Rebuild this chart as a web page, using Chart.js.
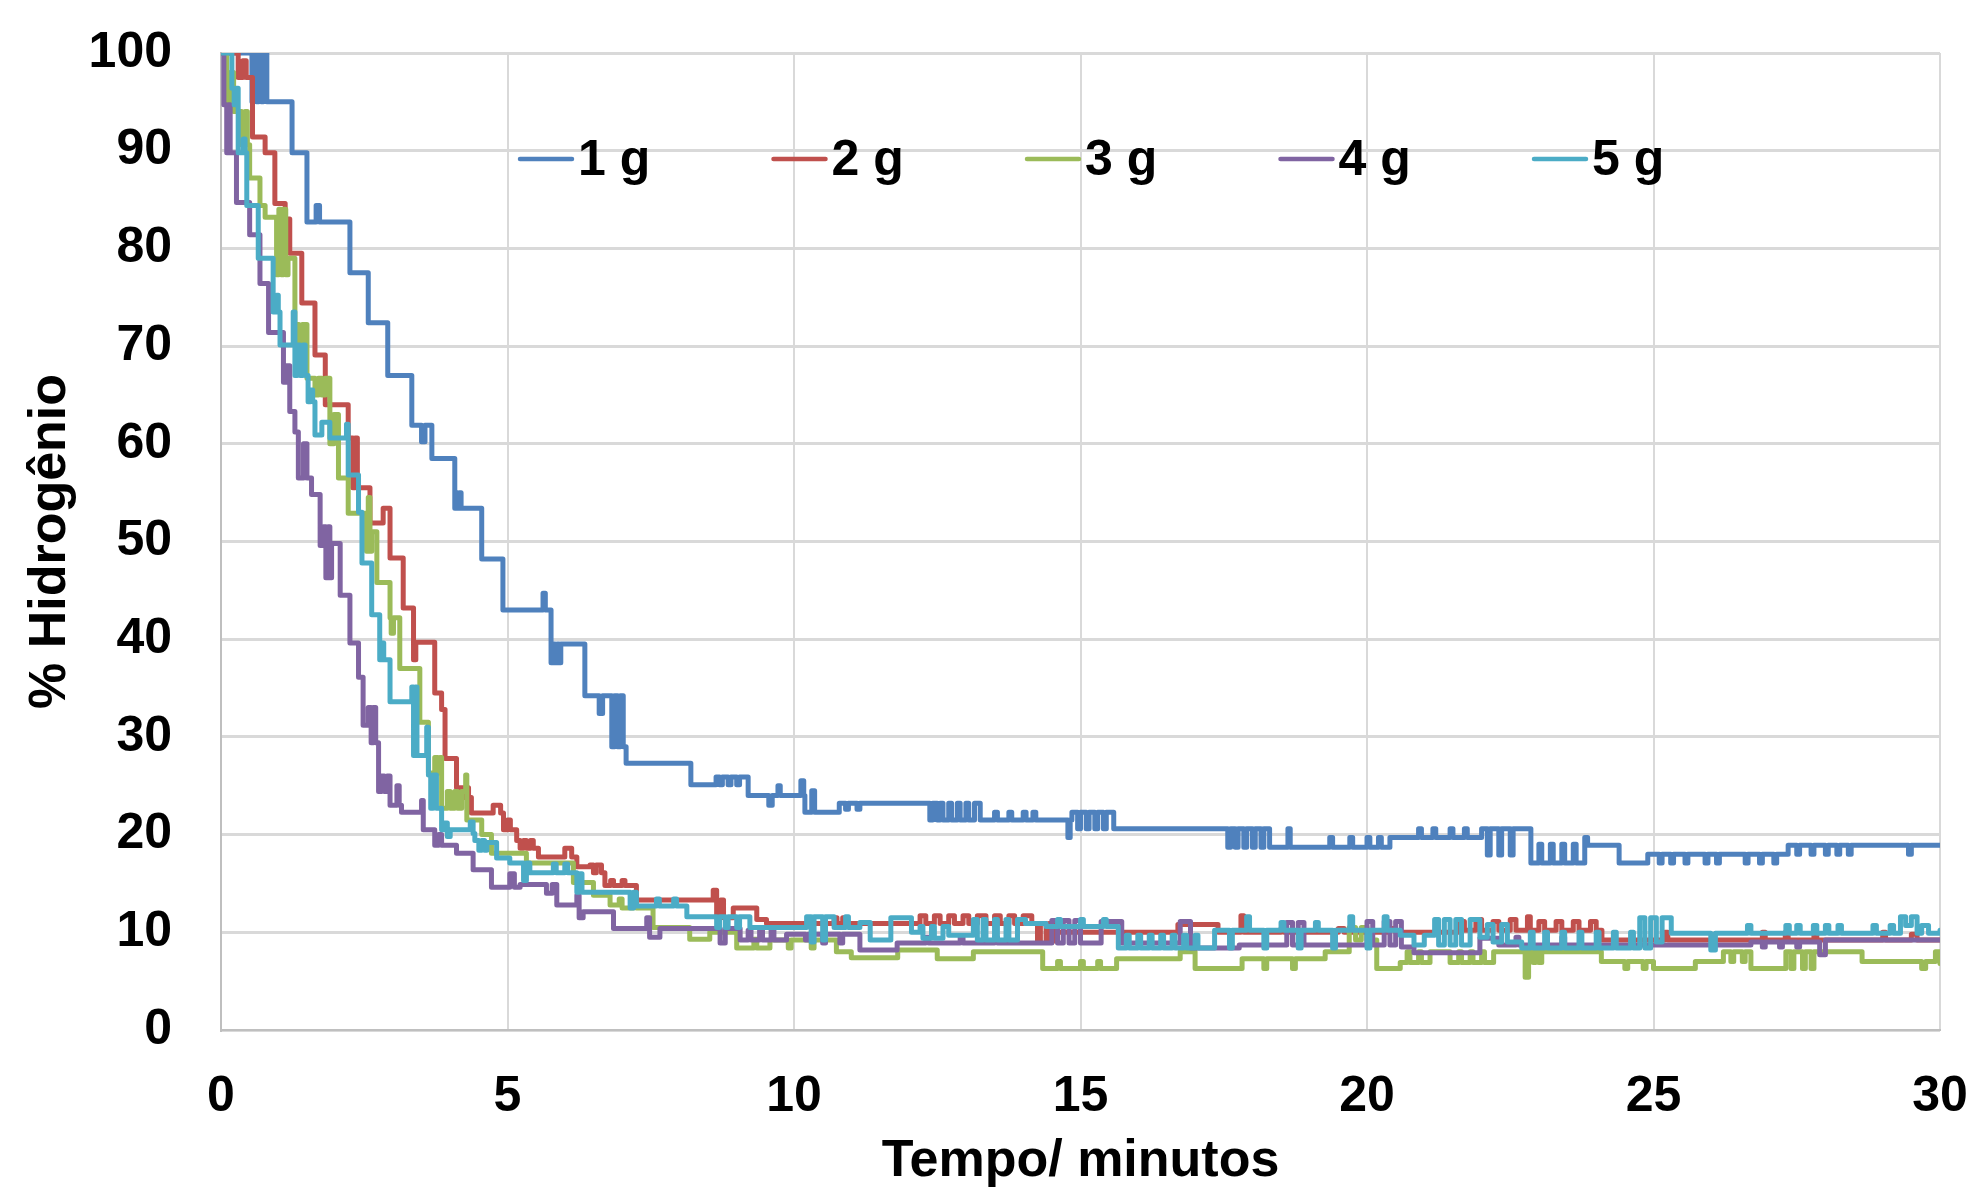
<!DOCTYPE html>
<html>
<head>
<meta charset="utf-8">
<script src="https://cdn.jsdelivr.net/npm/chart.js@4.4.1/dist/chart.umd.min.js"></script>
<style>
  html, body { margin: 0; padding: 0; background: #fff; }
  #wrap { width: 1971px; height: 1188px; }
</style>
</head>
<body>
<div id="wrap"><canvas id="c" width="1971" height="1188"></canvas></div>
<script>
// ---------- Data (time in minutes, % hydrogen) ----------
const seriesLabels = ["1 g", "2 g", "3 g", "4 g", "5 g"];
const seriesColors = ["#4F81BD", "#C0504D", "#9BBB59", "#8064A2", "#4BACC6"];

const h1g = [
  [0,100],[0.54,95],[0.58,100],[0.62,95],[0.66,100],[0.70,95],[0.74,100],[0.80,95],
  [1.24,89.8],[1.50,82.7],[1.66,84.4],[1.72,82.7],[2.25,77.5],[2.57,72.4],[2.91,67.0],
  [3.33,61.9],[3.50,60.2],[3.56,61.9],[3.68,58.5],[4.08,53.4],[4.10,55],[4.13,53.4],[4.16,55],[4.19,53.4],
  [4.55,48.2],[4.92,43.0],[5.62,44.7],[5.66,43.0],[5.76,37.6],[5.80,39.5],[5.83,37.6],[5.87,39.5],[5.90,37.6],[5.93,39.5],
  [6.35,34.2],[6.60,32.4],[6.66,34.2],[6.82,29],[6.87,34.2],[6.92,29],[6.97,34.2],[7.02,29],[7.07,27.3],
  [8.20,25.1],[8.64,25.9],[8.70,25.1],[8.75,25.9],[8.85,25.1],[8.90,25.9],[9.00,25.1],[9.05,25.9],[9.20,24.0],
  [9.56,23.0],[9.62,24.0],[9.72,25.0],[9.76,24.0],[10.12,25.5],[10.17,24.0],[10.19,22.3],[10.31,24.5],[10.36,22.3],
  [10.79,23.2],[10.90,22.6],[10.95,23.2],[11.10,22.6],[11.15,23.2],
  [12.37,21.5],[12.42,23.2],[12.50,21.5],[12.55,23.2],[12.60,21.5],[12.70,23.2],[12.75,21.5],[12.85,23.2],[12.90,21.5],
  [13.00,23.2],[13.05,21.5],[13.15,23.2],[13.25,21.5],[13.50,22.3],[13.55,21.5],[13.75,22.3],[13.80,21.5],
  [14.00,22.3],[14.05,21.5],[14.17,22.3],[14.22,21.5],[14.78,19.7],[14.82,21.5],
  [14.85,22.3],[14.95,20.6],[15.00,22.3],[15.10,20.6],[15.15,22.3],[15.25,20.6],[15.30,22.3],[15.40,20.6],[15.45,22.3],[15.58,20.6],
  [17.57,18.7],[17.62,20.6],[17.70,18.7],[17.75,20.6],[17.85,18.7],[17.90,20.6],[18.00,18.7],[18.05,20.6],[18.15,18.7],[18.20,20.6],[18.30,18.7],
  [18.62,20.6],[18.66,18.7],[19.35,19.7],[19.40,18.7],[19.70,19.7],[19.75,18.7],[20.00,19.7],[20.05,18.7],[20.20,19.7],[20.25,18.7],[20.40,19.7],
  [20.90,20.6],[20.95,19.7],[21.15,20.6],[21.20,19.7],[21.45,20.6],[21.50,19.7],[21.70,20.6],[21.75,19.7],
  [22.00,20.6],[22.10,17.9],[22.15,20.6],[22.30,17.9],[22.35,20.6],[22.50,17.9],[22.55,20.6],
  [22.86,17.1],[23.00,19.0],[23.05,17.1],[23.20,19.0],[23.25,17.1],[23.40,19.0],[23.45,17.1],[23.60,19.0],[23.65,17.1],[23.80,19.7],[23.85,18.9],
  [24.40,17.1],[24.90,18.0],[25.10,17.1],[25.15,18.0],[25.30,17.1],[25.35,18.0],[25.55,17.1],[25.60,18.0],[25.90,17.1],[25.95,18.0],
  [26.10,17.1],[26.15,18.0],[26.60,17.1],[26.65,18.0],[26.85,17.1],[26.90,18.0],[27.10,17.1],[27.15,18.0],
  [27.35,18.9],[27.50,18.0],[27.55,18.9],[27.75,18.0],[27.80,18.9],[28.00,18.0],[28.05,18.9],[28.20,18.0],[28.25,18.9],[28.40,18.0],[28.45,18.9],
  [29.45,18.0],[29.50,18.9],[30,18.9]
];

const h2g = [
  [0,100],[0.30,97.5],[0.38,99.2],[0.44,97.5],[0.55,91.4],[0.77,89.8],[0.94,84.6],[1.12,83.0],[1.20,79.5],[1.41,74.4],
  [1.64,69.1],[1.82,64.0],[2.22,60.6],[2.30,55.5],[2.34,60.6],[2.38,55.5],[2.60,51.9],[2.83,53.4],[2.95,48.3],[3.18,43.2],
  [3.36,37.9],[3.40,39.7],[3.73,34.5],[3.85,32.8],[3.91,27.8],[4.11,24.8],[4.23,23.8],[4.27,24.8],[4.32,23.8],[4.37,22.2],
  [4.75,23.0],[4.88,22.2],[4.93,20.5],[5.00,21.5],[5.05,20.5],[5.16,19.4],[5.22,18.6],[5.28,19.4],[5.33,18.6],[5.40,19.4],[5.45,18.6],
  [5.54,17.7],[6.00,18.6],[6.12,17.7],[6.21,16.7],[6.44,16.9],[6.50,16.1],[6.55,16.9],[6.64,16.1],[6.70,14.8],[6.80,15.3],[6.85,14.8],
  [7.00,15.3],[7.05,14.8],[7.25,13.3],[8.59,14.3],[8.65,11.5],[8.72,13.3],[8.77,11.5],[8.94,12.5],[9.35,11.3],[9.52,10.9],
  [10.70,11.5],[10.75,10.9],[10.85,11.5],[10.90,10.9],[12.20,11.7],[12.30,10.9],[12.45,11.7],[12.55,10.9],[12.70,11.7],[12.80,10.9],
  [12.95,11.7],[13.05,10.9],[13.20,11.7],[13.35,10.9],[13.50,11.7],[13.60,10.9],[13.75,11.7],[13.85,10.9],[14.00,11.7],[14.15,10.9],
  [14.25,9.1],[14.30,10.9],[14.40,9.1],[14.45,10.9],[14.55,9.1],[14.60,10.0],[16.70,10.8],[17.40,10.0],[17.80,11.7],[17.85,10.0],
  [18.50,10.4],[18.55,10.0],[19.50,10.4],[19.60,10.0],[20.40,10.4],[20.50,10.0],
  [21.60,11.1],[21.70,10.2],[21.90,11.3],[22.00,10.2],[22.20,11.1],[22.30,10.2],[22.50,11.3],[22.60,10.2],[22.80,11.6],[22.85,10.2],
  [23.00,11.1],[23.10,10.2],[23.30,11.1],[23.40,10.2],[23.60,11.1],[23.70,10.2],[23.90,11.1],[24.00,10.2],[24.10,9.2],
  [25.20,10.0],[25.25,9.2],[26.90,10.0],[26.95,9.2],[27.30,10.0],[27.35,9.2],[27.80,10.0],[27.85,9.2],[29.00,10.0],[29.05,9.2],
  [29.50,9.8],[29.60,9.2],[30,9.2]
];

const h3g = [
  [0,100],[0.10,95],[0.16,98],[0.22,94],[0.36,90.6],[0.42,94],[0.46,90.6],[0.50,87.2],[0.68,84.4],[0.77,83.2],[0.97,77.3],
  [1.01,84],[1.05,77.3],[1.09,84],[1.13,77.3],[1.17,79],[1.29,72.2],[1.36,70],[1.42,72.2],[1.50,66.7],[1.64,65.0],[1.70,66.7],
  [1.76,65.0],[1.82,66.7],[1.90,60],[1.97,63],[2.05,56.5],[2.22,52.9],[2.54,49.0],[2.57,54.5],[2.60,49.0],[2.63,51.0],[2.72,45.8],
  [2.95,42.2],[2.97,40.6],[3.01,42.2],[3.12,37.0],[3.47,31.5],[3.62,26.3],[3.73,27.9],[3.78,26.3],[3.82,27.9],[3.85,22.7],
  [3.95,24.4],[4.00,22.7],[4.08,24.4],[4.13,22.7],[4.20,24.4],[4.27,26.1],[4.29,21.5],[4.55,20.0],[4.72,18.1],[5.33,17.1],
  [6.15,15.1],[6.50,13.8],[6.79,12.8],[6.95,13.4],[7.00,12.5],[7.20,13.1],[7.25,12.5],[7.54,10.5],[8.18,9.3],[8.53,10.0],
  [9.00,8.4],[9.30,9.3],[9.35,8.4],[9.58,9.2],[9.90,8.4],[9.95,9.2],[10.30,8.4],[10.35,9.2],[10.74,8.0],[11.00,7.4],[11.81,8.2],
  [12.50,7.3],[13.13,8.0],[14.34,6.3],[14.60,7.0],[14.65,6.3],[15.00,7.0],[15.05,6.3],[15.30,7.0],[15.35,6.3],[15.63,7.3],
  [16.74,8.0],[17.00,6.3],[17.82,7.3],[18.20,6.3],[18.25,7.3],[18.70,6.3],[18.75,7.3],[19.27,8.0],[19.69,10.5],[19.80,9.2],
  [19.90,10.5],[20.00,9.2],[20.17,6.3],[20.58,6.9],[20.70,8.0],[20.75,6.9],[20.90,8.0],[20.95,6.9],[21.10,8.0],[21.45,6.9],
  [21.60,8.0],[21.65,6.9],[21.80,8.0],[21.85,6.9],[22.00,8.0],[22.05,6.9],[22.21,8.0],[22.76,5.4],[22.82,8.0],[22.90,6.9],
  [22.94,8.0],[23.00,6.9],[23.05,8.0],[24.09,7.0],[24.50,6.3],[24.55,7.0],[24.82,6.3],[24.87,7.0],[25.00,6.3],[25.73,7.0],
  [26.22,8.0],[26.35,7.0],[26.40,8.0],[26.55,7.0],[26.60,8.0],[26.70,6.3],[27.31,8.0],[27.40,6.3],[27.45,8.0],[27.60,6.3],
  [27.65,8.0],[27.75,6.3],[27.80,8.0],[28.64,7.0],[29.68,6.3],[29.75,7.0],[29.92,8.0],[30,6.8]
];

const h4g = [
  [0,100],[0.05,94.7],[0.10,89.8],[0.13,94.7],[0.16,89.8],[0.27,84.7],[0.50,81.4],[0.68,76.4],[0.83,71.4],[1.09,66.3],[1.14,68],
  [1.20,63.3],[1.29,61.2],[1.35,56.5],[1.44,60],[1.50,56.5],[1.58,54.8],[1.73,49.6],[1.79,51.5],[1.83,46.3],[1.87,51.5],[1.90,46.3],
  [1.93,49.8],[2.08,44.5],[2.25,39.6],[2.40,36.1],[2.48,31.2],[2.57,33.0],[2.62,29.4],[2.66,33.0],[2.70,29.4],[2.75,24.4],[2.80,26.0],
  [2.85,24.4],[2.90,26.0],[2.95,23.0],[3.07,25.0],[3.11,23.0],[3.15,22.3],[3.50,23.5],[3.53,20.5],[3.73,18.9],[3.80,20.0],[3.85,18.9],
  [4.11,18.1],[4.40,16.4],[4.72,14.6],[5.04,16.0],[5.12,14.6],[5.22,14.9],[5.68,14.0],[5.78,14.9],[5.86,12.8],[6.21,13.8],[6.25,11.5],
  [6.32,12.1],[6.85,10.4],[7.43,11.5],[7.48,9.5],[7.66,10.4],[8.71,8.9],[8.80,10.4],[9.06,9.2],[9.20,10.2],[9.25,9.2],[9.40,10.2],
  [9.45,9.2],[9.60,10.2],[9.65,9.2],[9.87,9.8],[10.20,9.2],[10.25,9.8],[10.50,8.9],[10.55,9.8],[10.80,8.9],[10.85,9.8],[11.15,8.2],
  [11.80,8.9],[12.30,9.5],[12.35,8.9],[12.90,9.5],[12.95,8.9],[13.50,9.5],[13.55,8.9],[14.50,11.2],[14.60,8.9],[14.70,11.2],[14.80,8.9],
  [14.90,11.2],[15.00,8.9],[15.36,11.1],[15.72,8.9],[16.74,11.1],[16.92,8.4],[17.77,8.7],[18.60,11.0],[18.70,8.7],[18.80,11.0],[18.90,8.7],
  [20.00,11.1],[20.10,8.7],[20.30,11.1],[20.40,8.7],[20.50,11.1],[20.60,8.5],[20.82,7.9],[21.97,9.4],[22.30,8.7],[22.60,9.5],[22.65,8.7],
  [23.40,9.5],[23.45,8.7],[26.70,9.0],[26.90,8.5],[26.95,9.0],[27.20,8.5],[27.25,9.0],[27.50,8.5],[27.55,9.0],[27.90,7.7],[28.00,9.2],[30,9.2]
];

const h5g = [
  [0,100],[0.19,96.4],[0.23,94.7],[0.26,96.4],[0.30,89.8],[0.39,91.2],[0.42,89.8],[0.45,84.4],[0.65,79.0],[0.91,73.5],[0.97,75.2],
  [1.00,73.5],[1.03,70.1],[1.26,73.5],[1.29,67.0],[1.33,70.1],[1.38,67.0],[1.43,70.1],[1.47,67.0],[1.52,64.3],[1.56,65.5],[1.60,64.3],
  [1.64,60.9],[1.76,62.2],[1.90,60.6],[2.19,62.0],[2.22,56.8],[2.40,53.0],[2.46,47.8],[2.63,42.5],[2.77,37.9],[2.81,39.6],[2.84,37.9],
  [2.95,33.6],[3.33,35.1],[3.36,28.1],[3.39,35.1],[3.42,28.1],[3.59,31.0],[3.62,26.1],[3.66,22.7],[3.70,26.1],[3.76,22.7],[3.85,20.5],
  [3.90,21.2],[3.95,19.8],[4.00,20.5],[4.35,21.3],[4.40,20.1],[4.43,19.4],[4.50,18.4],[4.55,19.4],[4.60,18.4],[4.64,19.2],[4.81,17.6],
  [5.04,17.1],[5.28,15.3],[5.33,17.1],[5.39,16.1],[5.80,17.0],[5.85,16.1],[6.00,17.0],[6.05,16.1],[6.21,14.1],[6.25,16.0],[6.30,14.1],
  [7.14,12.5],[7.20,14.1],[7.25,12.7],[7.60,13.4],[7.65,12.7],[7.90,13.4],[7.95,12.7],[8.13,11.6],[8.65,10.5],[8.70,11.6],[8.80,10.5],
  [8.85,11.6],[9.00,10.5],[9.05,11.6],[9.23,10.5],[10.22,11.6],[10.30,9.0],[10.35,11.6],[10.50,9.2],[10.55,11.6],[10.70,10.5],[10.90,11.6],
  [10.95,10.5],[11.15,11.0],[11.33,9.2],[11.69,11.5],[12.05,10.0],[12.20,10.6],[12.25,9.4],[12.40,10.6],[12.45,9.4],[12.60,10.6],[12.70,9.7],
  [13.13,11.3],[13.20,9.2],[13.30,11.3],[13.35,9.2],[13.50,11.3],[13.55,9.2],[13.70,11.3],[13.75,9.2],[13.90,11.3],[14.04,10.9],[14.40,10.6],
  [14.60,11.3],[14.65,10.6],[15.00,11.3],[15.05,10.6],[15.40,11.3],[15.45,10.6],[15.66,8.4],[15.80,9.7],[15.85,8.4],[16.00,9.7],[16.05,8.4],
  [16.20,9.7],[16.25,8.4],[16.40,9.7],[16.45,8.4],[16.60,9.7],[16.65,8.4],[16.80,9.7],[16.85,8.4],[17.00,9.7],[17.05,8.4],[17.34,10.2],
  [17.60,8.4],[17.65,10.2],[17.90,11.6],[17.95,10.2],[18.20,8.4],[18.25,10.2],[18.50,11.0],[18.55,10.2],[18.80,8.4],[18.85,10.2],
  [19.10,11.0],[19.15,10.2],[19.40,8.4],[19.45,10.2],[19.70,11.6],[19.75,10.2],[20.00,8.4],[20.05,10.2],[20.30,11.6],[20.35,10.2],
  [20.58,9.7],[20.82,8.7],[21.00,9.7],[21.18,11.3],[21.25,8.7],[21.35,11.3],[21.45,8.7],[21.55,11.3],[21.65,8.7],[21.80,11.3],[21.97,9.5],
  [22.10,10.8],[22.20,9.0],[22.35,10.8],[22.45,9.0],[22.70,8.4],[22.85,10.0],[22.90,8.4],[23.10,10.0],[23.15,8.4],[23.40,10.0],[23.45,8.4],
  [23.70,10.0],[23.75,8.4],[24.00,10.0],[24.05,8.4],[24.30,10.0],[24.35,8.4],[24.60,10.0],[24.65,8.4],[24.76,11.5],[24.85,8.4],[24.95,11.5],
  [25.05,9.0],[25.15,11.5],[25.31,9.9],[26.00,8.2],[26.08,9.9],[26.64,10.7],[26.70,9.9],[27.31,10.7],[27.37,9.9],[27.50,10.7],[27.56,9.9],
  [27.79,10.7],[27.85,9.9],[28.00,10.7],[28.06,9.9],[28.22,10.7],[28.28,9.9],[28.83,10.7],[28.89,9.9],[29.13,10.7],[29.19,9.9],
  [29.31,11.6],[29.40,10.7],[29.50,11.6],[29.60,9.9],[29.68,10.7],[29.80,9.9],[30,10.2]
];

const allSeries = [h1g, h2g, h3g, h4g, h5g];

// ---------- Helpers ----------
const FONT = '"Liberation Sans", Arial, sans-serif';
const toXY = (pts) => pts.map(([x, y]) => ({ x, y }));

// legend drawn inside the plot, along the top
const inlineLegend = {
  id: "inlineLegend",
  afterDraw(chart) {
    const { ctx, chartArea } = chart;
    ctx.save();
    ctx.font = "bold 50px " + FONT;
    ctx.textBaseline = "middle";
    ctx.fillStyle = "#000";
    chart.data.datasets.forEach((ds, i) => {
      const x0 = chartArea.left + 299 + i * 253.5;
      const y = chartArea.top + 108;
      ctx.strokeStyle = ds.borderColor;
      ctx.lineWidth = 4.5;
      ctx.lineCap = "round";
      ctx.beginPath();
      ctx.moveTo(x0, y - 2);
      ctx.lineTo(x0 + 52, y - 2);
      ctx.stroke();
      ctx.fillText(ds.label, x0 + 58, y);
    });
    ctx.restore();
  },
};

// tick padding gets added to the scale's own padding; drop it so the layout padding rules
const fitX = (s) => { s.height = 158; s.paddingLeft = 0; s.paddingRight = 0; };
const fitY = (s) => { s.width = 221; s.paddingTop = 0; s.paddingBottom = 0; };

// ---------- Chart ----------
new Chart(document.getElementById("c"), {
  type: "line",
  data: {
    datasets: allSeries.map((pts, i) => ({
      label: seriesLabels[i],
      data: toXY(pts),
      borderColor: seriesColors[i],
      borderWidth: 5,
      stepped: true,
      pointRadius: 0,
      fill: false,
      borderCapStyle: "round",
      borderJoinStyle: "round",
      order: 5 - i,
    })),
  },
  options: {
    responsive: false,
    animation: false,
    devicePixelRatio: 1,
    layout: { padding: { left: 0, right: 31, top: 53, bottom: 0 } },
    plugins: { legend: { display: false }, tooltip: { enabled: false } },
    scales: {
      x: {
        type: "linear",
        min: 0,
        max: 30,
        afterFit: fitX,
        ticks: { stepSize: 5, color: "#000", padding: 37, font: { family: FONT, size: 50, weight: "bold", lineHeight: 1.2 } },
        grid: { color: "#D9D9D9", lineWidth: 2, drawTicks: false },
        border: { color: "#BFBFBF", width: 2 },
        title: { display: true, text: "Tempo/ minutos", color: "#000", padding: { top: 0, bottom: 0 }, font: { family: FONT, size: 52, weight: "bold", lineHeight: 1 } },
      },
      y: {
        min: 0,
        max: 100,
        afterFit: fitY,
        ticks: { stepSize: 10, autoSkip: false, color: "#000", padding: 49, font: { family: FONT, size: 50, weight: "bold", lineHeight: 1.2 } },
        grid: { color: "#D9D9D9", lineWidth: 3, drawTicks: false },
        border: { color: "#BFBFBF", width: 2 },
        title: { display: true, text: "% Hidrogênio", color: "#000", padding: { top: 25, bottom: 0 }, font: { family: FONT, size: 52, weight: "bold", lineHeight: 1 } },
      },
    },
  },
  plugins: [inlineLegend],
});
</script>
</body>
</html>
